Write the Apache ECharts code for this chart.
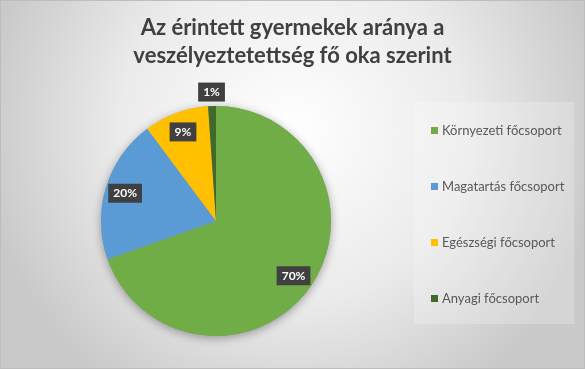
<!DOCTYPE html>
<html><head><meta charset="utf-8">
<script src="https://cdn.jsdelivr.net/npm/echarts@6/dist/echarts.min.js"></script>
<style>html,body{margin:0;padding:0;background:#fff}#c{width:583px;height:367px;border:1px solid #bdbdbd}</style>
</head><body><div id="c"></div>
<script>
const titleLines = ['Az érintett gyermekek aránya a', 'veszélyeztetettség fő oka szerint'];
const categories = ['Környezeti főcsoport', 'Magatartás főcsoport', 'Egészségi főcsoport', 'Anyagi főcsoport'];
const values = [69.6, 20.2, 9.1, 1.1];
const colors = ['#70AD47', '#5B9BD5', '#FFC000', '#43682B'];
const insideLabelShown = [true, true, true, false];

const FONT = 'Lato, "Open Sans", sans-serif';
const center = [215, 220];
const R = 115;

const baseData = categories.map((n, i) => ({ name: n, value: values[i], itemStyle: { color: colors[i] } }));
const labelBox = {
  show: true, formatter: '{d}%', color: '#fff', fontFamily: FONT, fontWeight: 'bold', fontSize: 12,
  backgroundColor: '#404040', padding: [3, 5, 2, 5], lineHeight: 14
};
const transparentData = (showArr) => categories.map((n, i) => ({
  name: n, value: values[i], itemStyle: { color: 'rgba(0,0,0,0)' },
  label: { show: showArr[i] }
}));

const chart = echarts.init(document.getElementById('c'));
chart.setOption({
  backgroundColor: {
    type: 'radial', x: 0.5, y: 0.35, r: 0.85,
    colorStops: [{ offset: 0, color: '#ffffff' }, { offset: 0.55, color: '#ebebeb' }, { offset: 1, color: '#c9c9c9' }]
  },
  title: titleLines.map((t, i) => ({
    text: t, left: 'center', top: 13 + i * 28, padding: 0,
    textStyle: { fontFamily: FONT, fontWeight: 'bold', fontSize: 22, color: '#404040', lineHeight: 28 }
  })),
  legend: {
    orient: 'vertical', left: 413, top: 101, data: categories,
    backgroundColor: 'rgba(255,255,255,0.22)',
    padding: [22, 10, 19, 17], itemGap: 43, itemWidth: 7, itemHeight: 7, icon: 'rect',
    width: 137,
    textStyle: { fontFamily: FONT, fontSize: 13, color: '#595959', padding: [0, 0, 0, -1] }
  },
  series: [
    {
      type: 'pie', center: center, radius: [0, R], silent: true, z: 1,
      data: [{ name: '', value: 1, itemStyle: { color: '#999', shadowBlur: 10, shadowColor: 'rgba(0,0,0,0.35)', shadowOffsetY: 2 } }],
      label: { show: false }, labelLine: { show: false }, animation: false
    },
    {
      type: 'pie', center: center, radius: [0, R], startAngle: 90, z: 2,
      data: baseData, label: { show: false }, labelLine: { show: false }, animation: false
    },
    {
      type: 'pie', center: center, radius: [69, R], startAngle: 90, z: 3, silent: true,
      percentPrecision: 0,
      data: transparentData(insideLabelShown),
      label: Object.assign({ position: 'inside' }, labelBox), labelLine: { show: false }, animation: false
    },
    {
      type: 'pie', center: center, radius: [R, R + 22], startAngle: 90, z: 3, silent: true,
      percentPrecision: 0,
      data: transparentData(insideLabelShown.map(v => !v)),
      label: Object.assign({ position: 'inside' }, labelBox), labelLine: { show: false }, animation: false
    }
  ]
});
</script></body></html>
